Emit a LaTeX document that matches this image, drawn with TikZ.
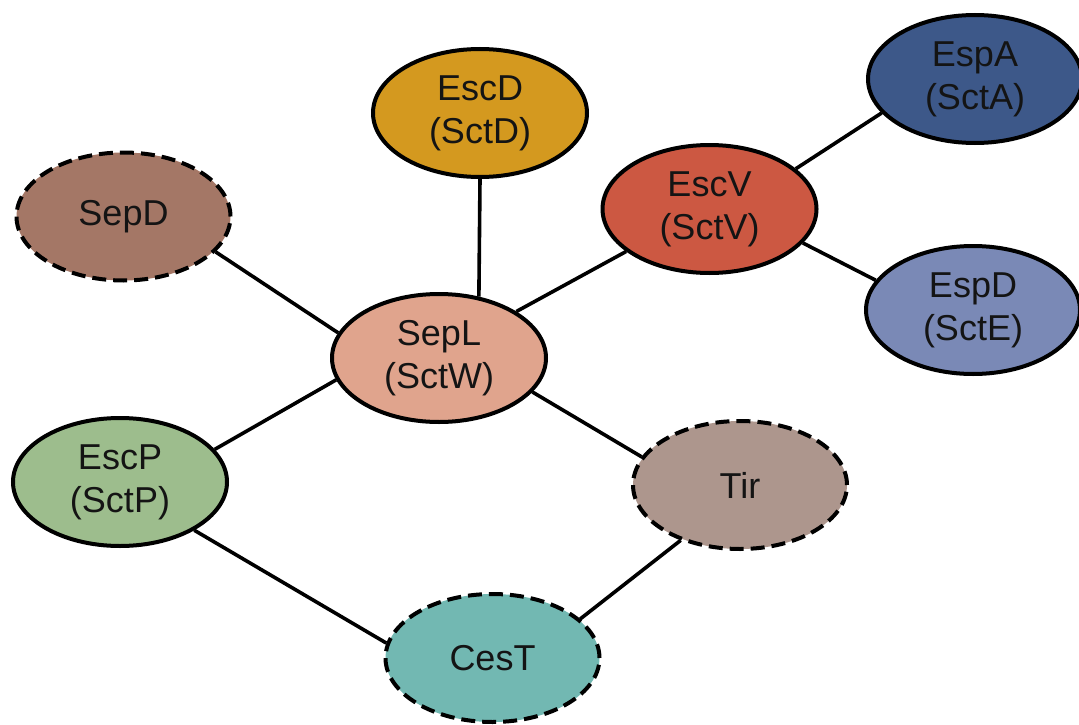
\documentclass[tikz,border=0pt]{standalone}
\usepackage{fontspec}
\setmainfont{Liberation Sans}
\usetikzlibrary{shapes.geometric,backgrounds}
\definecolor{cSepD}{HTML}{A47766}
\definecolor{cEscD}{HTML}{D4991F}
\definecolor{cEscV}{HTML}{CC5842}
\definecolor{cEspA}{HTML}{3D5889}
\definecolor{cEspD}{HTML}{7A89B6}
\definecolor{cSepL}{HTML}{E0A48D}
\definecolor{cEscP}{HTML}{9DBD8D}
\definecolor{cTir}{HTML}{AD968D}
\definecolor{cCesT}{HTML}{72B8B2}
\definecolor{txt}{HTML}{141414}
\tikzset{
  prot/.style={ellipse, draw=black, line width=4pt, minimum width=214pt, minimum height=128pt,
    inner sep=0pt, align=center, text=txt,
    font=\fontsize{36}{43}\selectfont},
  dashedprot/.style={prot, dash pattern=on 14pt off 7pt},
  link/.style={line width=3.6pt, draw=black}
}
\begin{document}
\begin{tikzpicture}[x=1pt,y=-1pt]
\useasboundingbox (0,0) rectangle (1079,725);
\node[prot, fill=cEscD] (EscD) at (480,113) {EscD\\(SctD)};
\node[dashedprot, fill=cSepD] (SepD) at (123.5,216.5) {SepD};
\node[prot, fill=cEscV] (EscV) at (709.5,209) {EscV\\(SctV)};
\node[prot, fill=cEspA] (EspA) at (975,79) {EspA\\(SctA)};
\node[prot, fill=cEspD] (EspD) at (973,310) {EspD\\(SctE)};
\node[prot, fill=cSepL] (SepL) at (439,358) {SepL\\(SctW)};
\node[prot, fill=cEscP] (EscP) at (120,482) {EscP\\(SctP)};
\node[dashedprot, fill=cTir] (Tir) at (740,485) {Tir};
\node[dashedprot, fill=cCesT] (CesT) at (492.5,658) {CesT};
\begin{scope}[on background layer]
\draw[link] (SepD.-21) -- (SepL.166);
\draw[link] (EscD.south) -- (SepL.57);
\draw[link] (SepL.31) -- (EscV.207);
\draw[link] (EscV.25) -- (EspA.200);
\draw[link] (EscV.-20) -- (EspD.163);
\draw[link] (SepL.192) -- (EscP.19);
\draw[link] (SepL.-20) -- (Tir.164);
\draw[link] (EscP.-33) -- (CesT.172);
\draw[link] (Tir.223) -- (CesT.24);
\end{scope}
\end{tikzpicture}
\end{document}
